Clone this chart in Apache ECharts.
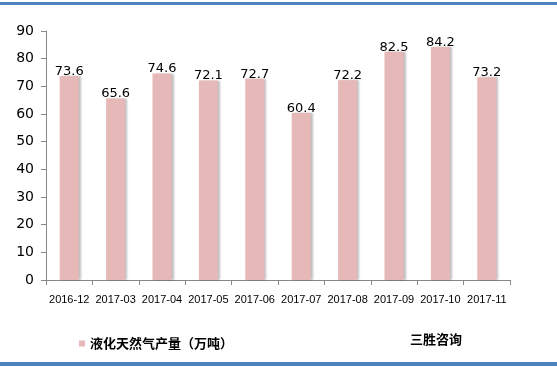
<!DOCTYPE html>
<html><head><meta charset="utf-8">
<script src="https://cdn.jsdelivr.net/npm/echarts@6/dist/echarts.min.js"></script>
<style>html,body{margin:0;padding:0;background:#fff}#c{width:557px;height:368px}</style>
</head><body><div id="c"></div>
<script>
const categories = ['2016-12','2017-03','2017-04','2017-05','2017-06','2017-07','2017-08','2017-09','2017-10','2017-11'];
const values = [73.6,65.6,74.6,72.1,72.7,60.4,72.2,82.5,84.2,73.2];
const yTicks = [0,10,20,30,40,50,60,70,80,90];
const seriesName = '液化天然气产量（万吨）';
const sourceText = '三胜咨询';

const chart = echarts.init(document.getElementById('c'));
chart.setOption({
  animation:false,
  grid:{left:46,right:47,top:31,bottom:88},
  xAxis:{type:'category',data:categories,
    axisLine:{lineStyle:{color:'#888'}},
    axisTick:{show:true,alignWithLabel:false,length:5,lineStyle:{color:'#888'}},
    axisLabel:{color:'#000',fontSize:11,fontFamily:'Liberation Sans, Arial',margin:14,interval:0}},
  yAxis:{type:'value',min:yTicks[0],max:yTicks[yTicks.length-1],interval:10,
    axisLine:{show:true,lineStyle:{color:'#888'}},
    axisTick:{show:true,length:5,lineStyle:{color:'#888'}},
    splitLine:{show:false},
    axisLabel:{color:'#000',fontSize:14,fontFamily:'DejaVu Sans, Verdana',margin:12}},
  series:[{type:'bar',name:seriesName,data:values,barWidth:19,
    itemStyle:{color:'#e6b8b7',shadowColor:'rgba(0,0,0,0.25)',shadowOffsetX:2,shadowBlur:2},
    label:{show:true,position:'top',distance:-2,color:'#000',fontSize:13,fontFamily:'DejaVu Sans, Verdana'}}],
  legend:{show:true,left:74,top:332,itemWidth:6,itemHeight:6,itemGap:4,icon:'rect',
    textStyle:{fontSize:13,fontWeight:'bold',color:'#000',fontFamily:'Noto Sans CJK SC'}},
  graphic:[
    {type:'rect',shape:{x:0,y:2,width:557,height:3},style:{fill:'#4f81bd'}},
    {type:'rect',shape:{x:0,y:362,width:557,height:4},style:{fill:'#4f81bd'}},
    {type:'text',left:410,top:333,style:{text:sourceText,fontSize:13,fontWeight:'bold',fill:'#000',fontFamily:'Noto Sans CJK SC'}}
  ]
});
</script></body></html>
